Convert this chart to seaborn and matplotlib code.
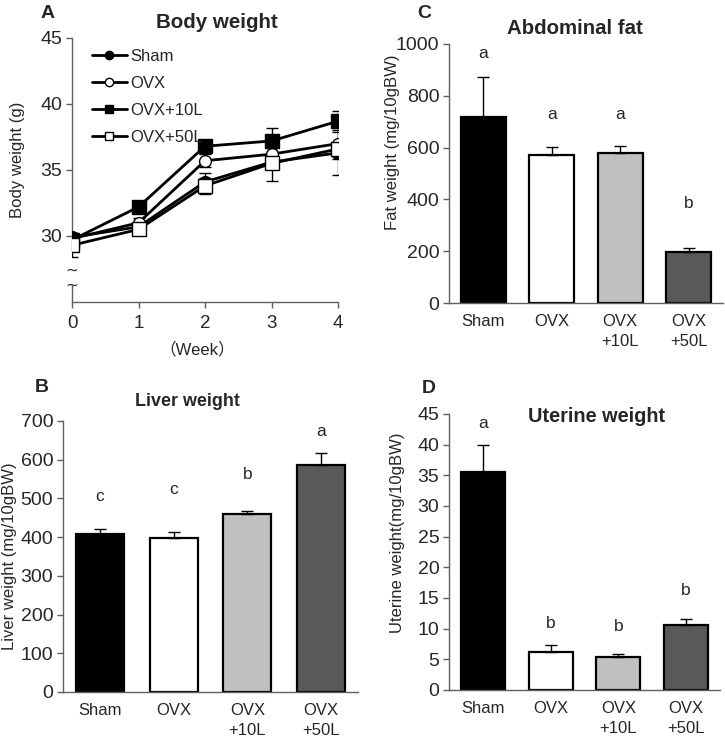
import numpy as np
import pandas as pd
import seaborn as sns
from matplotlib import pyplot as plt
from matplotlib.lines import Line2D

# ---- data ----
weeks = [0, 1, 2, 3, 4]
groups = ['Sham', 'OVX', 'OVX+10L', 'OVX+50L']
bw_sham = [29.9, 30.7, 34.1, 35.6, 36.3]
bw_ovx = [29.8, 31.0, 35.7, 36.2, 37.0]
bw_10l = [29.7, 32.2, 36.8, 37.2, 38.7]
bw_50l = [29.3, 30.5, 33.8, 35.5, 36.6]
bw_sham_err = [0.3, 0.3, 0.7, 0.4, 0.5]
bw_ovx_err = [0.3, 0.4, 0.5, 0.5, 1.0]
bw_10l_err = [0.3, 0.4, 0.5, 1.0, 0.8]
bw_50l_err = [0.9, 0.4, 0.6, 1.3, 2.0]

bar_labels = ['Sham', 'OVX', 'OVX\n+10L', 'OVX\n+50L']
bar_colors = ['#000000', '#ffffff', '#c0c0c0', '#595959']

fat = [720, 573, 579, 196]
fat_err = [153, 30, 28, 17]
fat_letters = ['a', 'a', 'a', 'b']
fat_letter_y = [965, 727, 727, 386]

liver = [409, 397, 459, 586]
liver_err = [11, 15, 8, 32]
liver_letters = ['c', 'c', 'b', 'a']
liver_letter_y = [504, 523, 562, 674]

uterine = [35.5, 6.2, 5.4, 10.6]
uterine_err = [4.5, 1.1, 0.4, 1.0]
uterine_letters = ['a', 'b', 'b', 'b']
uterine_letter_y = [43.5, 10.9, 10.3, 16.2]

sns.set_style('ticks')
plt.rcParams['font.family'] = ['Liberation Sans', 'Noto Sans CJK JP', 'DejaVu Sans']

W, H = 725, 737
fig = plt.figure(figsize=(W / 100, H / 100), dpi=100)


def px_axes(left, top, right, bottom):
    return fig.add_axes([left / W, 1 - bottom / H, (right - left) / W, (bottom - top) / H])


def style_axes(ax):
    for s in ['top', 'right']:
        ax.spines[s].set_visible(False)
    for s in ['left', 'bottom']:
        ax.spines[s].set_color('#606060')
        ax.spines[s].set_linewidth(1.0)
    ax.tick_params(axis='y', length=4, width=1, color='#606060', labelsize=14, pad=3)
    ax.tick_params(axis='x', labelsize=12)


def bar_panel(ax, vals, errs, letters, letter_y, ymax, step, ylabel):
    df = pd.DataFrame({'group': bar_labels, 'value': vals})
    sns.barplot(data=df, x='group', y='value', hue='group', palette=bar_colors,
                edgecolor='black', linewidth=1.6, width=0.65, legend=False, ax=ax)
    ax.errorbar(range(4), vals, yerr=[np.zeros(4), errs], fmt='none', ecolor='black',
                elinewidth=1.0, capsize=4, capthick=1.0, zorder=1)
    for i, (t, y) in enumerate(zip(letters, letter_y)):
        ax.text(i, y, t, ha='center', va='center', fontsize=12.5)
    ax.set_xlim(-0.5, 3.5)
    ax.set_ylim(0, ymax)
    ax.set_yticks(np.arange(0, ymax + step / 2, step))
    ax.set_xlabel('')
    ax.set_ylabel(ylabel, fontsize=12)
    style_axes(ax)
    ax.tick_params(axis='x', length=0, pad=8)
    for t in ax.get_xticklabels():
        t.set_linespacing(1.4)


# ---- A: body weight ----
axA = px_axes(72, 38, 338, 302)
series = [
    (bw_sham, bw_sham_err, 'o', 'black', 8.5),
    (bw_ovx, bw_ovx_err, 'o', 'white', 8.5),
    (bw_10l, bw_10l_err, 's', 'black', 9.5),
    (bw_50l, bw_50l_err, 's', 'white', 9.5),
]
for name, (vals, errs, mk, fc, ms) in zip(groups, series):
    axA.errorbar(weeks, vals, yerr=errs, fmt='none', ecolor='black', elinewidth=1.0,
                 capsize=4, capthick=1.0, zorder=2)
    sns.lineplot(x=weeks, y=vals, ax=axA, color='black', linewidth=2.0, marker=mk,
                 markersize=ms, markerfacecolor=fc, markeredgecolor='black',
                 markeredgewidth=1.0, zorder=3)
axA.set_xlim(0, 4)
axA.set_ylim(25, 45)
axA.set_xticks(weeks)
axA.set_yticks([30, 35, 40, 45])
style_axes(axA)
axA.tick_params(axis='x', length=4, width=1, color='#606060', pad=5, labelsize=13.5)
axA.spines['left'].set_bounds(28.8, 45)
axA.plot([0, 0], [25, 26.4], color='#606060', lw=1.0, clip_on=False, zorder=5)
axA.text(0, 27.45, '~', ha='center', va='center', fontsize=11, family='DejaVu Sans')
axA.text(0, 26.25, '~', ha='center', va='center', fontsize=11, family='DejaVu Sans')
axA.set_ylabel('Body weight (g)', fontsize=12)
axA.yaxis.set_label_coords(-0.177, 0.54)
axA.set_xlabel('（Week）', fontsize=12)
axA.xaxis.set_label_coords(0.47, -0.15)

handles = [
    Line2D([], [], color='black', lw=2, marker='o', ms=6, mfc='black', mec='black'),
    Line2D([], [], color='black', lw=2, marker='o', ms=6, mfc='white', mec='black'),
    Line2D([], [], color='black', lw=2, marker='s', ms=6, mfc='black', mec='black'),
    Line2D([], [], color='black', lw=2, marker='s', ms=6, mfc='white', mec='black'),
]
axA.legend(handles, groups, loc='upper left', bbox_to_anchor=(0.05, 0.985), frameon=False,
           fontsize=12, handlelength=2.1, handletextpad=0.2, labelspacing=0.72,
           borderaxespad=0)

fig.text(217 / W, 1 - 22 / H, 'Body weight', ha='center', va='center', fontsize=14.8,
         fontweight='bold')

# ---- C: abdominal fat ----
axC = px_axes(449, 44, 723, 303)
bar_panel(axC, fat, fat_err, fat_letters, fat_letter_y, 1000, 200, 'Fat weight (mg/10gBW)')
axC.yaxis.set_label_coords(-0.18, 0.62)
fig.text(575 / W, 1 - 28 / H, 'Abdominal fat', ha='center', va='center', fontsize=14.7,
         fontweight='bold')

# ---- B: liver weight ----
axB = px_axes(63, 421, 358, 692)
bar_panel(axB, liver, liver_err, liver_letters, liver_letter_y, 700, 100,
          'Liver weight (mg/10gBW)')
axB.yaxis.set_label_coords(-0.156, 0.5)
fig.text(187 / W, 1 - 402 / H, 'Liver weight', ha='center', va='center', fontsize=12.9,
         fontweight='bold')

# ---- D: uterine weight ----
axD = px_axes(449, 414, 720, 690)
bar_panel(axD, uterine, uterine_err, uterine_letters, uterine_letter_y, 45, 5,
          'Uterine weight(mg/10gBW)')
axD.yaxis.set_label_coords(-0.162, 0.57)
fig.text(597 / W, 1 - 416 / H, 'Uterine weight', ha='center', va='center', fontsize=14.3,
         fontweight='bold')

# panel letters
for lab, x, y in [('A', 48, 13), ('C', 424, 13), ('B', 42, 387), ('D', 429, 388)]:
    fig.text(x / W, 1 - y / H, lab, ha='center', va='center', fontsize=14, fontweight='bold')

fig.savefig('out.png', dpi=100)
